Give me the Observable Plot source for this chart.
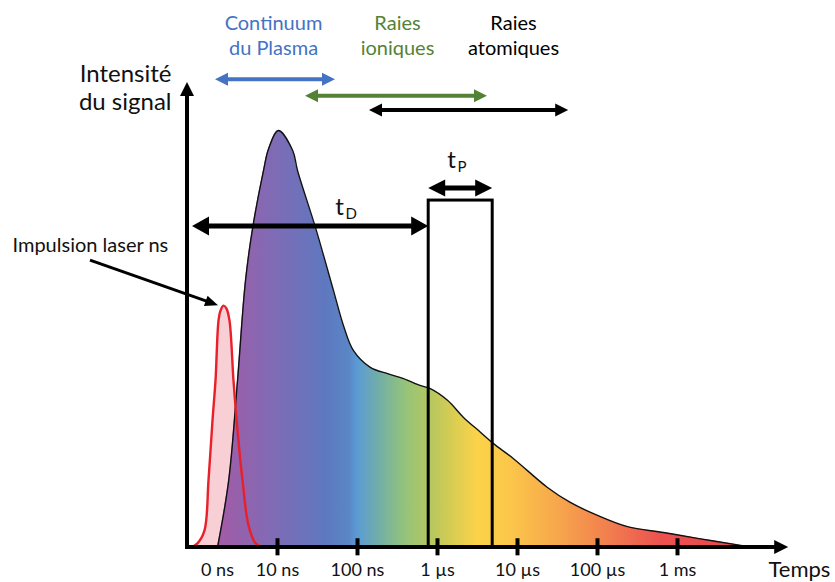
<!DOCTYPE html>
<html>
<head>
<meta charset="utf-8">
<script src="https://cdn.jsdelivr.net/npm/d3@7"></script>
<script src="https://cdn.jsdelivr.net/npm/@observablehq/plot@0.6"></script>
<style>
  html, body { margin: 0; padding: 0; background: #fff; }
  svg { display: block; }
</style>
</head>
<body>
<div id="chart"></div>
<script>
// ---------- DATA ----------
// Time axis measured in decades (1 = 10 ns, 2 = 100 ns, ... 6 = 1 ms)
const tickPos = [1, 2, 3, 4, 5, 6];
const tickLabels = ["10 ns", "100 ns", "1 µs", "10 µs", "100 µs", "1 ms"];
const zeroPos = 0.25;
const zeroLabel = "0 ns";

// Plasma emission signal (relative intensity, peak = 100)
const signalT = [0.25, 0.39, 0.50, 0.60, 0.69, 0.825, 0.89, 1.01, 1.19, 1.25, 1.475, 1.70, 1.825, 1.95,
  2.16, 2.375, 2.575, 2.79, 2.91, 3.125, 3.325, 3.54, 3.70, 3.95, 4.375, 4.66, 5.0, 5.375, 5.825, 6.25, 6.79, 6.94];
const signalI = [0, 16.1, 40.0, 64.0, 76.7, 90.4, 95.7, 100, 95.2, 90.4, 76.7, 61.6, 53.2, 47.2,
  43.2, 41.7, 40.5, 38.8, 38.1, 35.3, 31.2, 27.6, 24.9, 21.3, 14.4, 10.8, 7.7, 5.0, 3.6, 2.2, 0.5, 0];

// ns laser pulse
const pulseT = [-0.0875, 0, 0.0875, 0.1375, 0.1875, 0.225, 0.2625, 0.2875, 0.325, 0.3625, 0.40, 0.45, 0.50, 0.5625, 0.6375, 0.725, 0.8125];
const pulseI = [0, 1.0, 4.1, 16.1, 30.5, 40.0, 54.4, 56.8, 58.0, 57.3, 54.4, 40.0, 28.1, 16.1, 5.3, 1.0, 0];

// Emission regimes (time spans)
const regimeNames = ["Continuum\ndu Plasma", "Raies\nioniques", "Raies\natomiques"];
const regimeStart = [0.225, 1.35, 2.15];
const regimeEnd = [1.725, 3.625, 4.64];

// Detection gate: delay t_D and gate width t_P
const delayStart = -0.0625;
const gateStart = 2.89;
const gateEnd = 3.69;
const gateTop = 83.2;

// Spectrum colours along time
const spectrumT = [0.25, 1.0, 1.6, 1.9, 2.0, 2.3, 2.6, 2.9, 3.2, 3.5, 3.9, 4.5, 5.2, 5.8, 6.9];
const spectrumC = ["#a45ba6", "#7d6cb6", "#5e78bf", "#5a86c6", "#5b9bd5", "#74b0a3", "#95c37b", "#b3c760",
  "#d9cd52", "#fbd349", "#fbc74a", "#f7a74c", "#f17b4e", "#ec5150", "#e8464c"];

// ---------- LAYOUT ----------
const FONT = "Lato, 'Open Sans', sans-serif";
const yRegime = [112.2, 108.2, 104.8];
const xRegimeLabel = [0.95, 2.5, 3.95];
const regimeColor = ["#4472c4", "#548235", "#000000"];
const yDelay = 77.0, yGate = 86.1;

const signal = signalT.map((t, i) => ({t, v: signalI[i]}));
const pulse = pulseT.map((t, i) => ({t, v: pulseI[i]}));
const regimes = regimeNames.map((name, i) => ({name, x1: regimeStart[i], x2: regimeEnd[i], y: yRegime[i], lx: xRegimeLabel[i], color: regimeColor[i]}));
const regimeArrows = regimes.map(r => ({x1: r.x1, x2: r.x2, y1: r.y, y2: r.y, color: r.color}));
const ticks = tickPos.map((t, i) => ({t, label: tickLabels[i]}));

function gradientDefs() {
  return (index, scales) => {
    const defs = d3.create("svg:defs");
    const t0 = spectrumT[0], t1 = spectrumT[spectrumT.length - 1];
    const g = defs.append("linearGradient")
      .attr("id", "spectrum")
      .attr("gradientUnits", "userSpaceOnUse")
      .attr("x1", scales.x(t0)).attr("x2", scales.x(t1))
      .attr("y1", 0).attr("y2", 0);
    spectrumT.forEach((t, i) => {
      g.append("stop").attr("offset", (t - t0) / (t1 - t0)).attr("stop-color", spectrumC[i]);
    });
    return defs.node();
  };
}

// double/single arrows with filled heads, positioned through Plot scales
function arrows(list, {color = "black", width = 4, headLength = 14, headWidth = 14, start = true, end = true} = {}) {
  return (index, scales) => {
    const g = d3.create("svg:g");
    for (const a of list) {
      const c = a.color || color;
      const x1 = scales.x(a.x1), y1 = scales.y(a.y1), x2 = scales.x(a.x2), y2 = scales.y(a.y2);
      const len = Math.hypot(x2 - x1, y2 - y1);
      const ux = (x2 - x1) / len, uy = (y2 - y1) / len;
      const nx = -uy, ny = ux;
      const s = start ? headLength * 0.7 : 0;
      const e = end ? headLength * 0.7 : 0;
      g.append("line")
        .attr("x1", x1 + ux * s).attr("y1", y1 + uy * s)
        .attr("x2", x2 - ux * e).attr("y2", y2 - uy * e)
        .attr("stroke", c).attr("stroke-width", width);
      const head = (tx, ty, dx, dy) => {
        const bx = tx - dx * headLength, by = ty - dy * headLength;
        const w = headWidth / 2;
        g.append("polygon")
          .attr("points", `${tx},${ty} ${bx + nx * w},${by + ny * w} ${bx - nx * w},${by - ny * w}`)
          .attr("fill", c);
      };
      if (end) head(x2, y2, ux, uy);
      if (start) head(x1, y1, -ux, -uy);
    }
    return g.node();
  };
}

const chart = Plot.plot({
  width: 835,
  height: 582,
  style: {fontFamily: FONT, background: "white", overflow: "visible"},
  x: {domain: [0, 7], range: [197, 757], axis: null},
  y: {domain: [0, 100], range: [547, 130], axis: null},
  marks: [
    gradientDefs(),
    // laser pulse fill
    Plot.areaY(pulse, {x: "t", y: "v", fill: "#f8cfd5", curve: "catmull-rom"}),
    // plasma signal
    Plot.areaY(signal, {x: "t", y: "v", fill: "url(#spectrum)", curve: "catmull-rom"}),
    Plot.line(signal, {x: "t", y: "v", stroke: "#111", strokeWidth: 1.4, curve: "catmull-rom"}),
    // laser pulse outline
    Plot.line(pulse, {x: "t", y: "v", stroke: "#e8202a", strokeWidth: 2.4, curve: "catmull-rom"}),
    // detection gate
    Plot.rect([{a: gateStart, b: gateEnd, top: gateTop}], {x1: "a", x2: "b", y1: () => 0, y2: "top", fill: "none", stroke: "black", strokeWidth: 3}),
    // axes
    arrows([{x1: -0.15, y1: 0, x2: 7.39, y2: 0}], {width: 4, headLength: 14, headWidth: 14, start: false}),
    arrows([{x1: -0.125, y1: -0.5, x2: -0.125, y2: 111.5}], {width: 4, headLength: 14, headWidth: 14, start: false}),
    Plot.ruleX(ticks, {x: "t", y1: () => -2, y2: () => 2.1, stroke: "black", strokeWidth: 4}),
    Plot.text(ticks, {x: "t", y: () => -5.5, text: "label", fontSize: 18, fill: "#111"}),
    Plot.text([zeroLabel], {x: () => zeroPos, y: () => -5.5, text: d => d, fontSize: 18, fill: "#111"}),
    Plot.text(["Temps"], {x: () => 7.1375, y: () => -5.5, text: d => d, fontSize: 22, textAnchor: "start", fill: "#111"}),
    Plot.text(["Intensité\ndu signal"], {x: () => -0.325, y: () => 110.4, text: d => d, fontSize: 24, textAnchor: "end", lineHeight: 1.15, fill: "#111"}),
    // emission regimes
    arrows(regimeArrows, {width: 4, headLength: 13, headWidth: 13}),
    Plot.text(regimes, {x: "lx", y: () => 123.1, text: "name", fill: "color", fontSize: 20, lineHeight: 1.3}),
    // t_D and t_P
    arrows([{x1: delayStart, y1: yDelay, x2: gateStart, y2: yDelay}], {width: 5, headLength: 17, headWidth: 19}),
    arrows([{x1: gateStart, y1: yGate, x2: gateEnd, y2: yGate}], {width: 5, headLength: 17, headWidth: 17}),
    Plot.text(["t"], {x: () => 1.775, y: () => 81.5, text: d => d, fontSize: 24, fill: "#111"}),
    Plot.text(["D"], {x: () => 1.85, y: () => 80.0, text: d => d, fontSize: 15, textAnchor: "start", fill: "#111"}),
    Plot.text(["t"], {x: () => 3.175, y: () => 92.8, text: d => d, fontSize: 24, fill: "#111"}),
    Plot.text(["P"], {x: () => 3.25, y: () => 91.1, text: d => d, fontSize: 15, textAnchor: "start", fill: "#111"}),
    // laser pulse annotation
    Plot.text(["Impulsion laser ns"], {x: () => -2.3125, y: () => 72.4, text: d => d, fontSize: 20, textAnchor: "start", fill: "#111"}),
    arrows([{x1: -1.3375, y1: 68.8, x2: 0.2625, y2: 58.0}], {width: 3, headLength: 13, headWidth: 11, start: false})
  ]
});
document.getElementById("chart").appendChild(chart);
</script>
</body>
</html>
